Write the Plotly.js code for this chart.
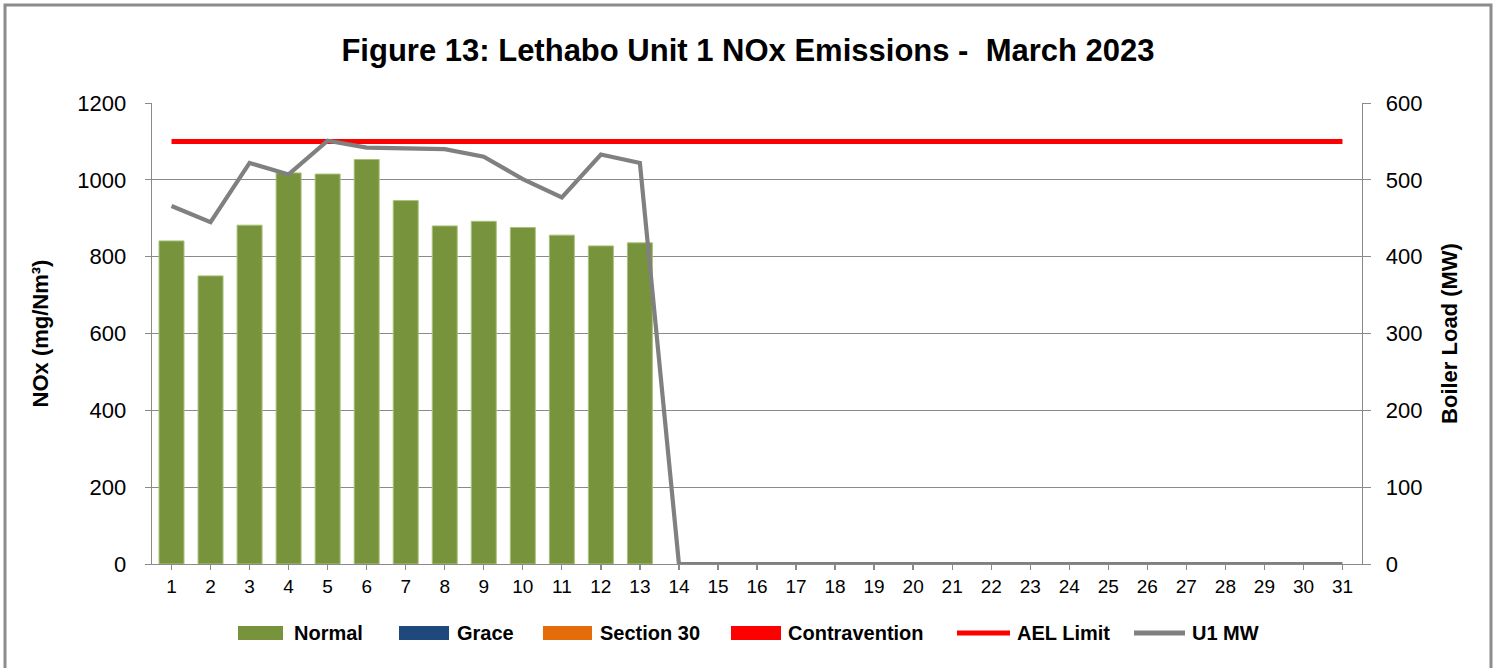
<!DOCTYPE html>
<html>
<head>
<meta charset="utf-8">
<script src="https://cdn.plot.ly/plotly-3.0.1.min.js"></script>
<style>html,body{margin:0;padding:0;background:#fff;}#chart{width:1496px;height:668px;}</style>
</head>
<body>
<div id="chart"></div>
<script>
// ---- data ----
const days = [1,2,3,4,5,6,7,8,9,10,11,12,13,14,15,16,17,18,19,20,21,22,23,24,25,26,27,28,29,30,31];
const normalDays = [1,2,3,4,5,6,7,8,9,10,11,12,13];
const normalNOx = [841,750,882,1018,1015,1053,946,880,892,876,856,828,836];
const graceNOx = [];
const section30NOx = [];
const contraventionNOx = [];
const aelLimit = [1100,1100,1100,1100,1100,1100,1100,1100,1100,1100,1100,1100,1100,1100,1100,1100,1100,1100,1100,1100,1100,1100,1100,1100,1100,1100,1100,1100,1100,1100,1100];
const u1MW = [466,445,522,507,551,542,541,540,530,501,477,533,522,0,0,0,0,0,0,0,0,0,0,0,0,0,0,0,0,0,0];
const leftTicks = [0,200,400,600,800,1000,1200];
const rightTicks = [0,100,200,300,400,500,600];
const seriesNames = ['Normal','Grace','Section 30','Contravention','AEL Limit','U1 MW'];
const seriesColors = ['#77933c','#1f497d','#e46c0a','#ff0000','#ff0000','#808080'];
const seriesKinds = ['bar','bar','bar','bar','line','line'];

const W = 1496, H = 668;
const M = {l:152, r:134, t:103, b:104};
const pw = W - M.l - M.r, ph = H - M.t - M.b;
const px = x => (x - M.l) / pw;
const py = y => (H - M.b - y) / ph;

const F = "'Liberation Sans', Arial, sans-serif";
const grid = '#8a8a8a';

const traces = [
  {type:'bar', name:seriesNames[0], x:normalDays, y:normalNOx, marker:{color:seriesColors[0], line:{color:'#a9c27a', width:1}}, yaxis:'y'},
  {type:'bar', name:seriesNames[1], x:graceNOx.map((v,i)=>days[i]), y:graceNOx, marker:{color:seriesColors[1]}, yaxis:'y'},
  {type:'bar', name:seriesNames[2], x:section30NOx.map((v,i)=>days[i]), y:section30NOx, marker:{color:seriesColors[2]}, yaxis:'y'},
  {type:'bar', name:seriesNames[3], x:contraventionNOx.map((v,i)=>days[i]), y:contraventionNOx, marker:{color:seriesColors[3]}, yaxis:'y'},
  {type:'scatter', mode:'lines', name:seriesNames[4], x:days, y:aelLimit, line:{color:seriesColors[4], width:5}, yaxis:'y'},
  {type:'scatter', mode:'lines', name:seriesNames[5], x:days, y:u1MW, line:{color:seriesColors[5], width:4.2}, yaxis:'y2'}
];

// legend layout (pixel positions of swatch start and text start)
const legSwatch = [[238,283],[399,449],[543,592],[731,781],[957,1010],[1134,1185]];
const legText = [292,455,598,786,1015,1190];
const legY = 633;

const shapes = [
  {type:'rect', xref:'paper', yref:'paper', x0:px(5), x1:px(1491), y0:py(672), y1:py(5), line:{color:'#8c8c8c', width:3}, fillcolor:'rgba(0,0,0,0)', layer:'below'}
];
const annotations = [];
seriesNames.forEach((n,i)=>{
  const [a,b] = legSwatch[i];
  if (seriesKinds[i]==='bar') {
    shapes.push({type:'rect', xref:'paper', yref:'paper', x0:px(a), x1:px(b), y0:py(legY+7), y1:py(legY-7), line:{width:0}, fillcolor:seriesColors[i]});
  } else {
    shapes.push({type:'line', xref:'paper', yref:'paper', x0:px(a), x1:px(b), y0:py(legY), y1:py(legY), line:{color:seriesColors[i], width:5}});
  }
  annotations.push({xref:'paper', yref:'paper', x:px(legText[i]), y:py(legY), xanchor:'left', yanchor:'middle', showarrow:false,
    text:n, font:{family:F, size:20, color:'#000', weight:'bold'}});
});

const layout = {
  width:W, height:H,
  margin:M,
  paper_bgcolor:'#fff', plot_bgcolor:'#fff',
  font:{family:F, color:'#000'},
  barmode:'stack', bargap:0.36,
  showlegend:false,
  title:{text:'Figure 13: Lethabo Unit 1 NOx Emissions -\u00a0 March 2023', font:{family:F, size:31, color:'#000', weight:'bold'}, x:0.5, xref:'container', xanchor:'center', y:1-50/H, yref:'container', yanchor:'middle'},
  xaxis:{range:[0.5,31.5], tickmode:'array', tickvals:days, ticktext:days.map(String), ticks:'outside', ticklen:5, tickcolor:grid, tickwidth:1.3,
         showline:true, linecolor:grid, linewidth:1.3, showgrid:false, zeroline:false, tickfont:{family:F, size:19, color:'#000'}},
  yaxis:{range:[0,1200], tickvals:leftTicks, showgrid:true, gridcolor:grid, gridwidth:1.3, showline:true, linecolor:grid, linewidth:1.3,
         ticks:'outside', ticklen:6, tickcolor:grid, zeroline:false, tickfont:{family:F, size:22, color:'#000'}, ticklabelstandoff:14,
         title:{text:'NOx (mg/Nm³)', font:{family:F, size:22, color:'#000', weight:'bold'}, standoff:22}},
  yaxis2:{range:[0,600], tickvals:rightTicks, overlaying:'y', side:'right', showgrid:false, showline:true, linecolor:grid, linewidth:1.3,
          ticks:'outside', ticklen:8, tickcolor:grid, zeroline:false, tickfont:{family:F, size:22, color:'#000'}, ticklabelstandoff:10,
          title:{text:'Boiler Load (MW)', font:{family:F, size:22, color:'#000', weight:'bold'}, standoff:20}},
  shapes:shapes,
  annotations:annotations
};

Plotly.newPlot('chart', traces, layout, {displayModeBar:false, staticPlot:true});
</script>
</body>
</html>
